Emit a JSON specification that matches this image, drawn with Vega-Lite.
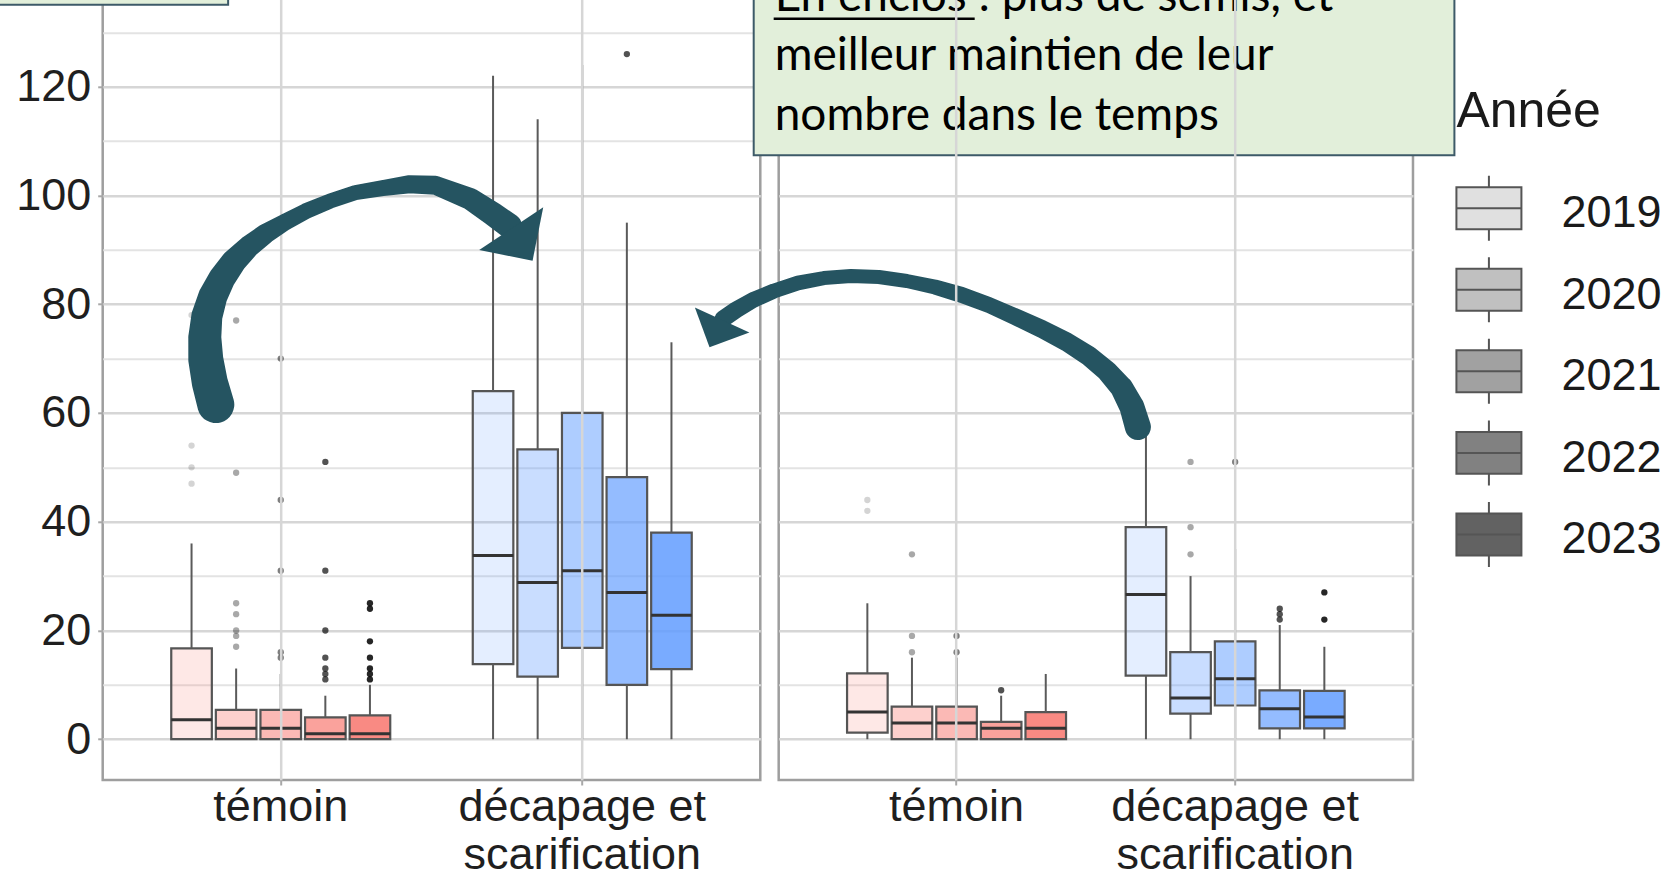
{
  "$schema": "https://vega.github.io/schema/vega-lite/v6.json",
  "autosize": {"type": "pad"},
  "padding": {"left": -23.3, "top": -188.2, "right": 0, "bottom": 0},
  "background": "white",
  "bounds": "flush",
  "spacing": 18,
  "config": {
    "view": {"stroke": "#9e9e9e", "strokeWidth": 2.5},
    "font": "Liberation Sans"
  },
  "datasets": {
    "boites": [
      {"panneau": "gauche", "traitement": "témoin", "annee": "2019", "lower": 0, "q1": 0, "median": 3.6, "q3": 16.7, "upper": 36},
      {"panneau": "gauche", "traitement": "témoin", "annee": "2020", "lower": 0, "q1": 0, "median": 2, "q3": 5.4, "upper": 13},
      {"panneau": "gauche", "traitement": "témoin", "annee": "2021", "lower": 0, "q1": 0, "median": 2, "q3": 5.4, "upper": 12},
      {"panneau": "gauche", "traitement": "témoin", "annee": "2022", "lower": 0, "q1": 0, "median": 1, "q3": 4, "upper": 8},
      {"panneau": "gauche", "traitement": "témoin", "annee": "2023", "lower": 0, "q1": 0, "median": 1, "q3": 4.4, "upper": 10},
      {"panneau": "gauche", "traitement": "décapage et scarification", "annee": "2019", "lower": 0, "q1": 13.8, "median": 33.8, "q3": 64, "upper": 122},
      {"panneau": "gauche", "traitement": "décapage et scarification", "annee": "2020", "lower": 0, "q1": 11.5, "median": 28.8, "q3": 53.3, "upper": 114},
      {"panneau": "gauche", "traitement": "décapage et scarification", "annee": "2021", "lower": 0, "q1": 16.8, "median": 31, "q3": 60, "upper": 124},
      {"panneau": "gauche", "traitement": "décapage et scarification", "annee": "2022", "lower": 0, "q1": 10, "median": 27, "q3": 48.2, "upper": 95},
      {"panneau": "gauche", "traitement": "décapage et scarification", "annee": "2023", "lower": 0, "q1": 12.9, "median": 22.8, "q3": 38, "upper": 73},
      {"panneau": "droite", "traitement": "témoin", "annee": "2019", "lower": 0, "q1": 1.2, "median": 5, "q3": 12.1, "upper": 25},
      {"panneau": "droite", "traitement": "témoin", "annee": "2020", "lower": 0, "q1": 0, "median": 3, "q3": 6, "upper": 15},
      {"panneau": "droite", "traitement": "témoin", "annee": "2021", "lower": 0, "q1": 0, "median": 3, "q3": 6, "upper": 15},
      {"panneau": "droite", "traitement": "témoin", "annee": "2022", "lower": 0, "q1": 0, "median": 2, "q3": 3.2, "upper": 8},
      {"panneau": "droite", "traitement": "témoin", "annee": "2023", "lower": 0, "q1": 0, "median": 2, "q3": 5, "upper": 12},
      {"panneau": "droite", "traitement": "décapage et scarification", "annee": "2019", "lower": 0, "q1": 11.7, "median": 26.6, "q3": 39, "upper": 58},
      {"panneau": "droite", "traitement": "décapage et scarification", "annee": "2020", "lower": 0, "q1": 4.7, "median": 7.6, "q3": 16, "upper": 30},
      {"panneau": "droite", "traitement": "décapage et scarification", "annee": "2021", "lower": 0, "q1": 6.2, "median": 11.1, "q3": 18, "upper": 35},
      {"panneau": "droite", "traitement": "décapage et scarification", "annee": "2022", "lower": 0, "q1": 2, "median": 5.6, "q3": 9, "upper": 21},
      {"panneau": "droite", "traitement": "décapage et scarification", "annee": "2023", "lower": 0, "q1": 2, "median": 4.1, "q3": 8.9, "upper": 17}
    ],
    "aberrants": [
      {"panneau": "gauche", "traitement": "témoin", "annee": "2019", "valeur": 78},
      {"panneau": "gauche", "traitement": "témoin", "annee": "2019", "valeur": 54},
      {"panneau": "gauche", "traitement": "témoin", "annee": "2019", "valeur": 50},
      {"panneau": "gauche", "traitement": "témoin", "annee": "2019", "valeur": 47},
      {"panneau": "gauche", "traitement": "témoin", "annee": "2020", "valeur": 77},
      {"panneau": "gauche", "traitement": "témoin", "annee": "2020", "valeur": 49},
      {"panneau": "gauche", "traitement": "témoin", "annee": "2020", "valeur": 25},
      {"panneau": "gauche", "traitement": "témoin", "annee": "2020", "valeur": 23},
      {"panneau": "gauche", "traitement": "témoin", "annee": "2020", "valeur": 20},
      {"panneau": "gauche", "traitement": "témoin", "annee": "2020", "valeur": 19},
      {"panneau": "gauche", "traitement": "témoin", "annee": "2020", "valeur": 17},
      {"panneau": "gauche", "traitement": "témoin", "annee": "2021", "valeur": 70},
      {"panneau": "gauche", "traitement": "témoin", "annee": "2021", "valeur": 44},
      {"panneau": "gauche", "traitement": "témoin", "annee": "2021", "valeur": 31},
      {"panneau": "gauche", "traitement": "témoin", "annee": "2021", "valeur": 16},
      {"panneau": "gauche", "traitement": "témoin", "annee": "2021", "valeur": 15},
      {"panneau": "gauche", "traitement": "témoin", "annee": "2022", "valeur": 51},
      {"panneau": "gauche", "traitement": "témoin", "annee": "2022", "valeur": 31},
      {"panneau": "gauche", "traitement": "témoin", "annee": "2022", "valeur": 20},
      {"panneau": "gauche", "traitement": "témoin", "annee": "2022", "valeur": 15},
      {"panneau": "gauche", "traitement": "témoin", "annee": "2022", "valeur": 13},
      {"panneau": "gauche", "traitement": "témoin", "annee": "2022", "valeur": 12},
      {"panneau": "gauche", "traitement": "témoin", "annee": "2022", "valeur": 11},
      {"panneau": "gauche", "traitement": "témoin", "annee": "2023", "valeur": 25},
      {"panneau": "gauche", "traitement": "témoin", "annee": "2023", "valeur": 24},
      {"panneau": "gauche", "traitement": "témoin", "annee": "2023", "valeur": 18},
      {"panneau": "gauche", "traitement": "témoin", "annee": "2023", "valeur": 15},
      {"panneau": "gauche", "traitement": "témoin", "annee": "2023", "valeur": 13},
      {"panneau": "gauche", "traitement": "témoin", "annee": "2023", "valeur": 12},
      {"panneau": "gauche", "traitement": "témoin", "annee": "2023", "valeur": 11},
      {"panneau": "gauche", "traitement": "décapage et scarification", "annee": "2022", "valeur": 126},
      {"panneau": "droite", "traitement": "témoin", "annee": "2019", "valeur": 44},
      {"panneau": "droite", "traitement": "témoin", "annee": "2019", "valeur": 42},
      {"panneau": "droite", "traitement": "témoin", "annee": "2020", "valeur": 34},
      {"panneau": "droite", "traitement": "témoin", "annee": "2020", "valeur": 19},
      {"panneau": "droite", "traitement": "témoin", "annee": "2020", "valeur": 16},
      {"panneau": "droite", "traitement": "témoin", "annee": "2021", "valeur": 19},
      {"panneau": "droite", "traitement": "témoin", "annee": "2021", "valeur": 16},
      {"panneau": "droite", "traitement": "témoin", "annee": "2022", "valeur": 9},
      {"panneau": "droite", "traitement": "décapage et scarification", "annee": "2020", "valeur": 51},
      {"panneau": "droite", "traitement": "décapage et scarification", "annee": "2020", "valeur": 39},
      {"panneau": "droite", "traitement": "décapage et scarification", "annee": "2020", "valeur": 34},
      {"panneau": "droite", "traitement": "décapage et scarification", "annee": "2021", "valeur": 51},
      {"panneau": "droite", "traitement": "décapage et scarification", "annee": "2022", "valeur": 24},
      {"panneau": "droite", "traitement": "décapage et scarification", "annee": "2022", "valeur": 23},
      {"panneau": "droite", "traitement": "décapage et scarification", "annee": "2022", "valeur": 22},
      {"panneau": "droite", "traitement": "décapage et scarification", "annee": "2023", "valeur": 27},
      {"panneau": "droite", "traitement": "décapage et scarification", "annee": "2023", "valeur": 22}
    ],
    "encadres": [
      {"nom": "encadré haut gauche", "x1": -126, "x2": -86.8, "y1": 135.08, "y2": 170},
      {"nom": "encadré vert", "x1": -3.94, "x2": 106.53, "y1": 107.38, "y2": 170}
    ],
    "texte": [
      {"x": -0.63, "y": 133.92, "texte": "En enclos : plus de semis, et\nmeilleur maintien de leur\nnombre dans le temps"}
    ],
    "soulignement": [
      {"x1": -0.79, "x2": 30.9, "y": 132.51}
    ],
    "legende_titre": [
      {"titre": "Année", "y": 112.59}
    ],
    "legende": [
      {"annee": "2019", "centre": 97.66},
      {"annee": "2020", "centre": 82.66},
      {"annee": "2021", "centre": 67.67},
      {"annee": "2022", "centre": 52.66},
      {"annee": "2023", "centre": 37.65}
    ],
    "fleches": [
      {"fleche": "gauche", "ordre": 1, "x": -88.74, "y": 61.55, "largeur": 37},
      {"fleche": "gauche", "ordre": 2, "x": -89.69, "y": 65.6, "largeur": 36},
      {"fleche": "gauche", "ordre": 3, "x": -90.32, "y": 69.83, "largeur": 35},
      {"fleche": "gauche", "ordre": 4, "x": -90.48, "y": 73.88, "largeur": 33},
      {"fleche": "gauche", "ordre": 5, "x": -90.16, "y": 77.74, "largeur": 31},
      {"fleche": "gauche", "ordre": 6, "x": -89.22, "y": 81.42, "largeur": 29},
      {"fleche": "gauche", "ordre": 7, "x": -87.8, "y": 84.73, "largeur": 27},
      {"fleche": "gauche", "ordre": 8, "x": -85.91, "y": 87.85, "largeur": 25},
      {"fleche": "gauche", "ordre": 9, "x": -83.54, "y": 90.61, "largeur": 22},
      {"fleche": "gauche", "ordre": 10, "x": -80.86, "y": 93.0, "largeur": 20},
      {"fleche": "gauche", "ordre": 11, "x": -77.86, "y": 95.08, "largeur": 17},
      {"fleche": "gauche", "ordre": 12, "x": -74.55, "y": 97.1, "largeur": 16},
      {"fleche": "gauche", "ordre": 13, "x": -70.77, "y": 98.94, "largeur": 15},
      {"fleche": "gauche", "ordre": 14, "x": -66.74, "y": 100.51, "largeur": 15},
      {"fleche": "gauche", "ordre": 15, "x": -62.45, "y": 101.35, "largeur": 16},
      {"fleche": "gauche", "ordre": 16, "x": -58.23, "y": 102.06, "largeur": 18},
      {"fleche": "gauche", "ordre": 17, "x": -54.13, "y": 101.88, "largeur": 19},
      {"fleche": "gauche", "ordre": 18, "x": -48.61, "y": 99.35, "largeur": 22},
      {"fleche": "gauche", "ordre": 19, "x": -45.06, "y": 96.59, "largeur": 24},
      {"fleche": "gauche", "ordre": 20, "x": -42.46, "y": 94.39, "largeur": 25},
      {"fleche": "droite", "ordre": 1, "x": 56.63, "y": 57.42, "largeur": 26},
      {"fleche": "droite", "ordre": 2, "x": 55.69, "y": 61.1, "largeur": 25},
      {"fleche": "droite", "ordre": 3, "x": 54.11, "y": 64.59, "largeur": 23},
      {"fleche": "droite", "ordre": 4, "x": 51.74, "y": 67.72, "largeur": 21},
      {"fleche": "droite", "ordre": 5, "x": 48.9, "y": 70.48, "largeur": 20},
      {"fleche": "droite", "ordre": 6, "x": 45.43, "y": 73.05, "largeur": 19},
      {"fleche": "droite", "ordre": 7, "x": 41.49, "y": 75.44, "largeur": 18},
      {"fleche": "droite", "ordre": 8, "x": 37.39, "y": 77.65, "largeur": 17},
      {"fleche": "droite", "ordre": 9, "x": 33.14, "y": 79.85, "largeur": 16},
      {"fleche": "droite", "ordre": 10, "x": 28.88, "y": 81.69, "largeur": 16},
      {"fleche": "droite", "ordre": 11, "x": 24.62, "y": 83.16, "largeur": 15},
      {"fleche": "droite", "ordre": 12, "x": 20.2, "y": 84.27, "largeur": 14},
      {"fleche": "droite", "ordre": 13, "x": 15.79, "y": 85.0, "largeur": 14},
      {"fleche": "droite", "ordre": 14, "x": 11.38, "y": 85.19, "largeur": 14},
      {"fleche": "droite", "ordre": 15, "x": 7.12, "y": 84.82, "largeur": 14},
      {"fleche": "droite", "ordre": 16, "x": 3.03, "y": 83.9, "largeur": 15},
      {"fleche": "droite", "ordre": 17, "x": -0.75, "y": 82.43, "largeur": 15},
      {"fleche": "droite", "ordre": 18, "x": -4.07, "y": 80.77, "largeur": 16},
      {"fleche": "droite", "ordre": 19, "x": -6.75, "y": 78.93, "largeur": 17},
      {"fleche": "droite", "ordre": 20, "x": -8.8, "y": 77.28, "largeur": 17}
    ],
    "pointes": [
      {"fleche": "gauche", "x": -42.17, "y": 93.89},
      {"fleche": "droite", "x": -8.92, "y": 77.09}
    ]
  },
  "resolve": {"scale": {"x": "independent", "y": "independent", "fill": "shared", "fillOpacity": "shared"}},
  "hconcat": [
    {
      "width": 657.6,
      "height": 897.2,
      "data": {"name": "boites"},
      "transform": [{"filter": "datum.panneau === 'gauche'"}],
      "encoding": {
        "x": {
          "field": "traitement", "type": "nominal", "title": null,
          "scale": {"domain": ["témoin", "décapage et scarification"], "paddingInner": 0.2604, "paddingOuter": 0.2207},
          "axis": {
            "labelExpr": "datum.value === 'témoin' ? 'témoin' : ['décapage et', 'scarification']",
            "labelFont": "Liberation Sans", "labelFontSize": 45, "labelColor": "#1f1f1f",
            "labelLimit": 0, "labelLineHeight": 48, "labelPadding": 0, "labelAngle": 0,
            "tickSize": 5, "tickWidth": 2, "tickColor": "#a8a8a8", "bandPosition": 0.5,
            "domain": false, "grid": true, "gridColor": "#d6d6d6", "gridWidth": 2.5
          }
        },
        "xOffset": {
          "field": "annee", "type": "nominal",
          "scale": {"domain": ["2019", "2020", "2021", "2022", "2023"], "paddingInner": 0.09, "paddingOuter": 0.045}
        }
      },
      "layer": [
        {
          "mark": {"type": "rect", "stroke": "#555555", "strokeWidth": 2.2},
          "encoding": {
            "y": {
              "field": "q1", "type": "quantitative", "title": null,
              "scale": {"domain": [-7.5, 157.5], "nice": false, "zero": false},
              "axis": {
                "values": [0, 10, 20, 30, 40, 50, 60, 70, 80, 90, 100, 110, 120, 130, 140, 150],
                "labelExpr": "datum.value % 20 === 0 && datum.value <= 120 ? datum.label : ''",
                "labelFont": "Liberation Sans", "labelFontSize": 45, "labelColor": "#1f1f1f", "labelPadding": 7,
                "tickSize": 5, "tickWidth": 2,
                "tickColor": {"condition": {"test": "datum.value % 20 === 0", "value": "#a8a8a8"}, "value": "rgba(0,0,0,0)"},
                "domain": false, "grid": true,
                "gridColor": {"condition": {"test": "datum.value % 20 === 0", "value": "#d6d6d6"}, "value": "#e3e3e3"},
                "gridWidth": {"condition": {"test": "datum.value % 20 === 0", "value": 2.5}, "value": 2}
              }
            },
            "y2": {"field": "q3"},
            "fill": {"field": "traitement", "type": "nominal", "scale": {"domain": ["témoin", "décapage et scarification"], "range": ["#F8766D", "#619CFF"]}, "legend": null},
            "fillOpacity": {"field": "annee", "type": "ordinal", "scale": {"type": "ordinal", "domain": ["2019", "2020", "2021", "2022", "2023"], "range": [0.17, 0.34, 0.51, 0.68, 0.85]}, "legend": null}
          }
        },
        {
          "mark": {"type": "rule", "color": "#5a5a5a", "strokeWidth": 2},
          "encoding": {
            "y": {"field": "q3", "type": "quantitative", "title": null, "scale": {"domain": [-7.5, 157.5], "nice": false, "zero": false}},
            "y2": {"field": "upper"}
          }
        },
        {
          "transform": [{"filter": "datum.q1 > datum.lower"}],
          "mark": {"type": "rule", "color": "#5a5a5a", "strokeWidth": 2},
          "encoding": {
            "y": {"field": "lower", "type": "quantitative", "title": null, "scale": {"domain": [-7.5, 157.5], "nice": false, "zero": false}},
            "y2": {"field": "q1"}
          }
        },
        {
          "mark": {"type": "rect", "fillOpacity": 0, "stroke": "#333333", "strokeWidth": 3},
          "encoding": {
            "y": {"field": "median", "type": "quantitative", "title": null, "scale": {"domain": [-7.5, 157.5], "nice": false, "zero": false}},
            "y2": {"field": "median"}
          }
        },
        {
          "data": {"name": "aberrants"},
          "transform": [{"filter": "datum.panneau === 'gauche'"}],
          "mark": {"type": "point", "filled": true, "color": "#000000", "size": 40, "opacity": 1, "strokeWidth": 0},
          "encoding": {
            "y": {"field": "valeur", "type": "quantitative", "title": null, "scale": {"domain": [-7.5, 157.5], "nice": false, "zero": false}},
            "fillOpacity": {"field": "annee", "type": "ordinal", "scale": {"type": "ordinal", "domain": ["2019", "2020", "2021", "2022", "2023"], "range": [0.17, 0.34, 0.51, 0.68, 0.85]}, "legend": null}
          }
        }
      ]
    },
    {
      "width": 634.3,
      "height": 897.2,
      "resolve": {"scale": {"x": "independent"}},
      "layer": [
        {
          "data": {"name": "boites"},
          "transform": [{"filter": "datum.panneau === 'droite'"}],
          "encoding": {
            "x": {
              "field": "traitement", "type": "nominal", "title": null,
              "scale": {"domain": ["témoin", "décapage et scarification"], "paddingInner": 0.1996, "paddingOuter": 0.2382},
              "axis": {
                "labelExpr": "datum.value === 'témoin' ? 'témoin' : ['décapage et', 'scarification']",
                "labelFont": "Liberation Sans", "labelFontSize": 45, "labelColor": "#1f1f1f",
                "labelLimit": 0, "labelLineHeight": 48, "labelPadding": 0, "labelAngle": 0,
                "tickSize": 5, "tickWidth": 2, "tickColor": "#a8a8a8", "bandPosition": 0.5,
                "domain": false, "grid": true, "gridColor": "#d6d6d6", "gridWidth": 2.5
              }
            },
            "xOffset": {
              "field": "annee", "type": "nominal",
              "scale": {"domain": ["2019", "2020", "2021", "2022", "2023"], "paddingInner": 0.09, "paddingOuter": 0.045}
            }
          },
          "layer": [
            {
              "mark": {"type": "rect", "stroke": "#555555", "strokeWidth": 2.2},
              "encoding": {
                "y": {
                  "field": "q1", "type": "quantitative", "title": null,
                  "scale": {"domain": [-7.5, 157.5], "nice": false, "zero": false},
                  "axis": {
                    "values": [0, 10, 20, 30, 40, 50, 60, 70, 80, 90, 100, 110, 120, 130, 140, 150],
                    "labels": false, "ticks": false, "domain": false, "grid": true,
                    "gridColor": {"condition": {"test": "datum.value % 20 === 0", "value": "#d6d6d6"}, "value": "#e3e3e3"},
                    "gridWidth": {"condition": {"test": "datum.value % 20 === 0", "value": 2.5}, "value": 2}
                  }
                },
                "y2": {"field": "q3"},
                "fill": {"field": "traitement", "type": "nominal", "scale": {"domain": ["témoin", "décapage et scarification"], "range": ["#F8766D", "#619CFF"]}, "legend": null},
                "fillOpacity": {"field": "annee", "type": "ordinal", "scale": {"type": "ordinal", "domain": ["2019", "2020", "2021", "2022", "2023"], "range": [0.17, 0.34, 0.51, 0.68, 0.85]}, "legend": null}
              }
            },
            {
              "mark": {"type": "rule", "color": "#5a5a5a", "strokeWidth": 2},
              "encoding": {
                "y": {"field": "q3", "type": "quantitative", "title": null, "scale": {"domain": [-7.5, 157.5], "nice": false, "zero": false}},
                "y2": {"field": "upper"}
              }
            },
            {
              "transform": [{"filter": "datum.q1 > datum.lower"}],
              "mark": {"type": "rule", "color": "#5a5a5a", "strokeWidth": 2},
              "encoding": {
                "y": {"field": "lower", "type": "quantitative", "title": null, "scale": {"domain": [-7.5, 157.5], "nice": false, "zero": false}},
                "y2": {"field": "q1"}
              }
            },
            {
              "mark": {"type": "rect", "fillOpacity": 0, "stroke": "#333333", "strokeWidth": 3},
              "encoding": {
                "y": {"field": "median", "type": "quantitative", "title": null, "scale": {"domain": [-7.5, 157.5], "nice": false, "zero": false}},
                "y2": {"field": "median"}
              }
            },
            {
              "data": {"name": "aberrants"},
              "transform": [{"filter": "datum.panneau === 'droite'"}],
              "mark": {"type": "point", "filled": true, "color": "#000000", "size": 40, "opacity": 1, "strokeWidth": 0},
              "encoding": {
                "y": {"field": "valeur", "type": "quantitative", "title": null, "scale": {"domain": [-7.5, 157.5], "nice": false, "zero": false}},
                "fillOpacity": {"field": "annee", "type": "ordinal", "scale": {"type": "ordinal", "domain": ["2019", "2020", "2021", "2022", "2023"], "range": [0.17, 0.34, 0.51, 0.68, 0.85]}, "legend": null}
              }
            }
          ]
        },
        {
          "layer": [
            {
              "data": {"name": "encadres"},
              "mark": {"type": "rect", "fill": "#e2efda", "stroke": "#3d5a68", "strokeWidth": 2},
              "encoding": {
                "x": {"field": "x1", "type": "quantitative", "axis": null, "scale": {"domain": [0, 100], "nice": false, "zero": false}},
                "x2": {"field": "x2"},
                "y": {"field": "y1", "type": "quantitative", "title": null, "scale": {"domain": [-7.5, 157.5], "nice": false, "zero": false}},
                "y2": {"field": "y2"}
              }
            },
            {
              "data": {"name": "texte"},
              "mark": {"type": "text", "font": "Lato", "fontSize": 46, "lineBreak": "\n", "lineHeight": 59.4, "align": "left", "baseline": "alphabetic", "color": "#000000"},
              "encoding": {
                "x": {"field": "x", "type": "quantitative", "axis": null, "scale": {"domain": [0, 100], "nice": false, "zero": false}},
                "y": {"field": "y", "type": "quantitative", "title": null, "scale": {"domain": [-7.5, 157.5], "nice": false, "zero": false}},
                "text": {"field": "texte"}
              }
            },
            {
              "data": {"name": "soulignement"},
              "mark": {"type": "rule", "color": "#000000", "strokeWidth": 2.5},
              "encoding": {
                "x": {"field": "x1", "type": "quantitative", "axis": null, "scale": {"domain": [0, 100], "nice": false, "zero": false}},
                "x2": {"field": "x2"},
                "y": {"field": "y", "type": "quantitative", "title": null, "scale": {"domain": [-7.5, 157.5], "nice": false, "zero": false}}
              }
            },
            {
              "data": {"name": "legende_titre"},
              "mark": {"type": "text", "font": "Liberation Sans", "fontSize": 50, "align": "left", "baseline": "alphabetic", "color": "#1a1a1a"},
              "encoding": {
                "x": {"datum": 106.84, "type": "quantitative", "axis": null, "scale": {"domain": [0, 100], "nice": false, "zero": false}},
                "y": {"field": "y", "type": "quantitative", "title": null, "scale": {"domain": [-7.5, 157.5], "nice": false, "zero": false}},
                "text": {"field": "titre"}
              }
            },
            {
              "data": {"name": "legende"},
              "mark": {"type": "point", "shape": "M-1,-0.646H1V0.646H-1Z M-1,0H1 M0,-0.646V-1 M0,0.646V1", "size": 4225, "fill": "#464646", "stroke": "#555555", "strokeWidth": 2, "opacity": 1},
              "encoding": {
                "x": {"datum": 111.97, "type": "quantitative", "axis": null, "scale": {"domain": [0, 100], "nice": false, "zero": false}},
                "y": {"field": "centre", "type": "quantitative", "title": null, "scale": {"domain": [-7.5, 157.5], "nice": false, "zero": false}},
                "fillOpacity": {"field": "annee", "type": "ordinal", "scale": {"type": "ordinal", "domain": ["2019", "2020", "2021", "2022", "2023"], "range": [0.17, 0.34, 0.51, 0.68, 0.85]}, "legend": null}
              }
            },
            {
              "data": {"name": "legende"},
              "mark": {"type": "text", "font": "Liberation Sans", "fontSize": 45, "align": "left", "baseline": "middle", "dy": 5, "color": "#1a1a1a"},
              "encoding": {
                "x": {"datum": 123.4, "type": "quantitative", "axis": null, "scale": {"domain": [0, 100], "nice": false, "zero": false}},
                "y": {"field": "centre", "type": "quantitative", "title": null, "scale": {"domain": [-7.5, 157.5], "nice": false, "zero": false}},
                "text": {"field": "annee"}
              }
            },
            {
              "data": {"name": "fleches"},
              "mark": {"type": "trail", "color": "#255461"},
              "encoding": {
                "x": {"field": "x", "type": "quantitative", "axis": null, "scale": {"domain": [0, 100], "nice": false, "zero": false}},
                "y": {"field": "y", "type": "quantitative", "title": null, "scale": {"domain": [-7.5, 157.5], "nice": false, "zero": false}},
                "size": {"field": "largeur", "type": "quantitative", "scale": null, "legend": null},
                "detail": {"field": "fleche"},
                "order": {"field": "ordre", "type": "quantitative"}
              }
            },
            {
              "data": {"name": "pointes"},
              "transform": [{"filter": "datum.fleche === 'gauche'"}],
              "mark": {"type": "point", "shape": "M-1,0L1,0L0,1Z", "filled": true, "color": "#255461", "opacity": 1, "size": 5929, "angle": 326.3, "strokeWidth": 0},
              "encoding": {
                "x": {"field": "x", "type": "quantitative", "axis": null, "scale": {"domain": [0, 100], "nice": false, "zero": false}},
                "y": {"field": "y", "type": "quantitative", "title": null, "scale": {"domain": [-7.5, 157.5], "nice": false, "zero": false}}
              }
            },
            {
              "data": {"name": "pointes"},
              "transform": [{"filter": "datum.fleche === 'droite'"}],
              "mark": {"type": "point", "shape": "M-1,0L1,0L0,1Z", "filled": true, "color": "#255461", "opacity": 1, "size": 3600, "angle": 24.8, "strokeWidth": 0},
              "encoding": {
                "x": {"field": "x", "type": "quantitative", "axis": null, "scale": {"domain": [0, 100], "nice": false, "zero": false}},
                "y": {"field": "y", "type": "quantitative", "title": null, "scale": {"domain": [-7.5, 157.5], "nice": false, "zero": false}}
              }
            }
          ]
        }
      ]
    }
  ]
}
